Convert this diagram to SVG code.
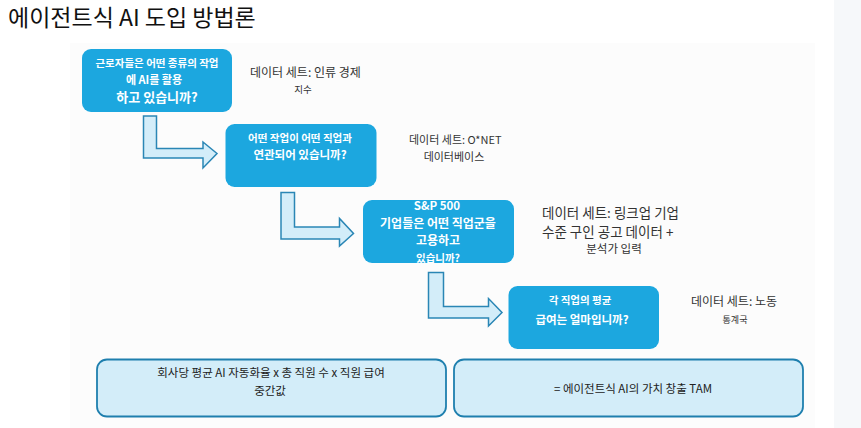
<svg xmlns="http://www.w3.org/2000/svg" width="861" height="428" viewBox="0 0 861 428">
<style>
text{font-family:"Noto Sans CJK KR","Noto Sans",sans-serif;}
.q{fill:#1ca7df;}
.qt{fill:#ffffff;font-weight:bold;text-anchor:middle;}
.ds{fill:#333333;}
.arr{fill:#d3edf9;stroke:#2a86b5;stroke-width:1.5;stroke-linejoin:miter;}
.res{fill:#d3edf9;stroke:#1e7fae;stroke-width:1.8;}
.rt{fill:#222222;text-anchor:middle;font-size:11.5px;}
</style>
<rect x="0" y="0" width="861" height="428" fill="#ffffff"/>
<rect x="70" y="43" width="745" height="385" fill="#fcfcfc"/>
<rect x="834" y="0" width="27" height="428" fill="#f6f8fa"/>
<text x="8" y="26" font-size="23" fill="#111111">에이전트식 AI 도입 방법론</text>
<g id="connectors">
<path class="arr" d="M143.5,116 H156.5 V148.5 H203 V142 L217,153.5 L203,168 V158 H143.5 Z"/>
<path class="arr" d="M281,192.5 H294.5 V227 H339.5 V218.5 L353.5,233.5 L339.5,246 V239 H281 Z"/>
<path class="arr" d="M428.5,272.5 H443.5 V306.5 H488.5 V298.5 L502,312.5 L488.5,326 V318 H428.5 Z"/>
</g>
<g id="node1">
<rect class="q" x="82" y="49" width="150" height="63" rx="9"/>
<text class="qt" x="157" y="67" font-size="10.5">근로자들은 어떤 종류의 작업</text>
<text class="qt" x="154" y="84" font-size="11">에 AI를 활용</text>
<text class="qt" x="157" y="102" font-size="13">하고 있습니까?</text>
</g>
<g id="label1">
<text class="ds" x="250" y="77" font-size="12">데이터 세트: 인류 경제</text>
<text class="ds" x="303" y="93" font-size="9.5" text-anchor="middle">지수</text>
</g>
<g id="node2">
<rect class="q" x="225.5" y="124" width="151" height="63" rx="9"/>
<text class="qt" x="300" y="142" font-size="10.5">어떤 작업이 어떤 직업과</text>
<text class="qt" x="300" y="159" font-size="11.5">연관되어 있습니까?</text>
</g>
<g id="label2">
<text class="ds" x="409" y="144" font-size="11">데이터 세트: O*NET</text>
<text class="ds" x="454" y="161" font-size="11" text-anchor="middle">데이터베이스</text>
</g>
<g id="node3">
<rect class="q" x="363" y="200" width="151" height="63" rx="9"/>
<text class="qt" x="437" y="210" font-size="11.5">S&amp;P 500</text>
<text class="qt" x="438" y="228" font-size="12">기업들은 어떤 직업군을</text>
<text class="qt" x="438" y="245" font-size="12">고용하고</text>
<text class="qt" x="438" y="262" font-size="10.5">있습니까?</text>
</g>
<g id="label3">
<text class="ds" x="542" y="218" font-size="13.5">데이터 세트: 링크업 기업</text>
<text class="ds" x="542" y="237" font-size="13.5">수준 구인 공고 데이터 +</text>
<text class="ds" x="614" y="253" font-size="11.5" text-anchor="middle">분석가 입력</text>
</g>
<g id="node4">
<rect class="q" x="508.5" y="286" width="150.5" height="63" rx="9"/>
<text class="qt" x="580" y="304" font-size="10.5">각 직업의 평균</text>
<text class="qt" x="582" y="324" font-size="11.5">급여는 얼마입니까?</text>
</g>
<g id="label4">
<text class="ds" x="691" y="306" font-size="12">데이터 세트: 노동</text>
<text class="ds" x="735" y="323" font-size="9" text-anchor="middle">통계국</text>
</g>
<g id="node5">
<rect class="res" x="97" y="359.5" width="349" height="57" rx="10"/>
<text class="rt" x="271" y="377">회사당 평균 AI 자동화율 x 총 직원 수 x 직원 급여</text>
<text class="rt" x="270" y="395">중간값</text>
</g>
<g id="node6">
<rect class="res" x="454" y="359.5" width="349" height="57" rx="10"/>
<text class="rt" x="633" y="393">= 에이전트식 AI의 가치 창출 TAM</text>
</g>
</svg>
